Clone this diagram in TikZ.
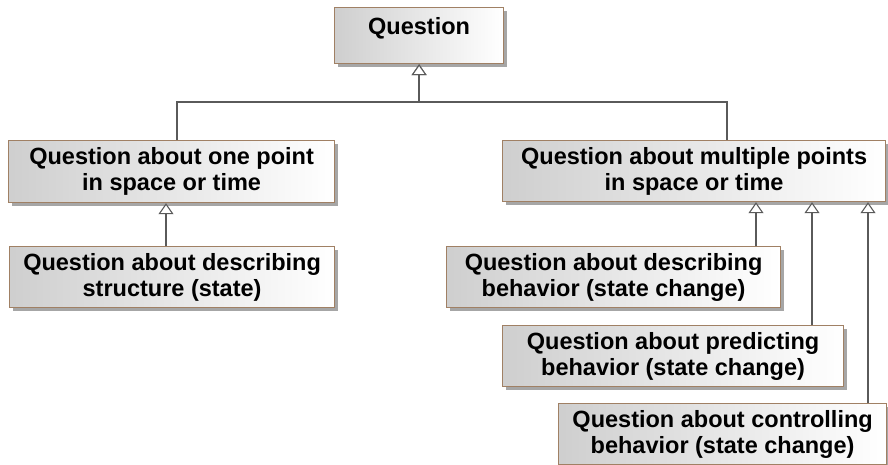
\documentclass[tikz,border=0pt]{standalone}
\usepackage{fontspec}
\setmainfont{Liberation Sans}
\usetikzlibrary{arrows.meta,shadows}
\definecolor{boxedge}{RGB}{160,128,100}
\definecolor{wire}{RGB}{90,90,90}
\tikzset{
  classbox/.style={rectangle, anchor=north west, inner sep=0pt,
    draw=boxedge, line width=1.2pt, left color=black!19, right color=white,
    drop shadow={shadow xshift=3.5pt, shadow yshift=-3.5pt, fill=black!35, opacity=1},
    font=\fontsize{23.5}{26}\selectfont\bfseries, align=center},
  toplabel/.style={anchor=north, inner sep=0pt, font=\fontsize{23.5}{26}\selectfont\bfseries},
  gen/.style={draw=wire, line width=1.3pt,
    -{Triangle[open, length=11pt, width=15pt, fill=white, line width=1.1pt]}}
}
\begin{document}
\begin{tikzpicture}[x=1pt, y=-1pt]
  \useasboundingbox (0,0) rectangle (888,465);

  % root class with its name compartment at the top
  \node[classbox, minimum width=169pt, minimum height=56pt] (q) at (334,7) {};
  \node[toplabel] (qname) at ([yshift=-10pt]q.north) {Question};

  % second level
  \node[classbox, minimum width=326pt, minimum height=62pt] (one) at (8,140)
    {Question about one point\\in space or time};
  \node[classbox, minimum width=383pt, minimum height=61pt] (multi) at (502,140)
    {Question about multiple points\\in space or time};

  % third level
  \node[classbox, minimum width=325pt, minimum height=61pt] (struct) at (9,246)
    {Question about describing\\structure (state)};
  \node[classbox, minimum width=334pt, minimum height=61pt] (descb) at (446,246)
    {Question about describing\\behavior (state change)};
  \node[classbox, minimum width=341pt, minimum height=61pt] (predb) at (502,325)
    {Question about predicting\\behavior (state change)};
  \node[classbox, minimum width=328pt, minimum height=61pt] (ctrlb) at (558,403)
    {Question about controlling\\behavior (state change)};

  % generalisation links
  \coordinate (join) at (q.south |- 0,102);
  \draw[gen] (one.north -| 177,0) |- (join) -- (q.south);
  \draw[gen] (multi.north -| 727,0) |- (join) -- (q.south);
  \draw[gen] (struct.north -| 166,0) -- (one.south -| 166,0);
  \draw[gen] (descb.north -| 756,0) -- (multi.south -| 756,0);
  \draw[gen] (predb.north -| 812,0) -- (multi.south -| 812,0);
  \draw[gen] (ctrlb.north -| 868,0) -- (multi.south -| 868,0);
\end{tikzpicture}
\end{document}
